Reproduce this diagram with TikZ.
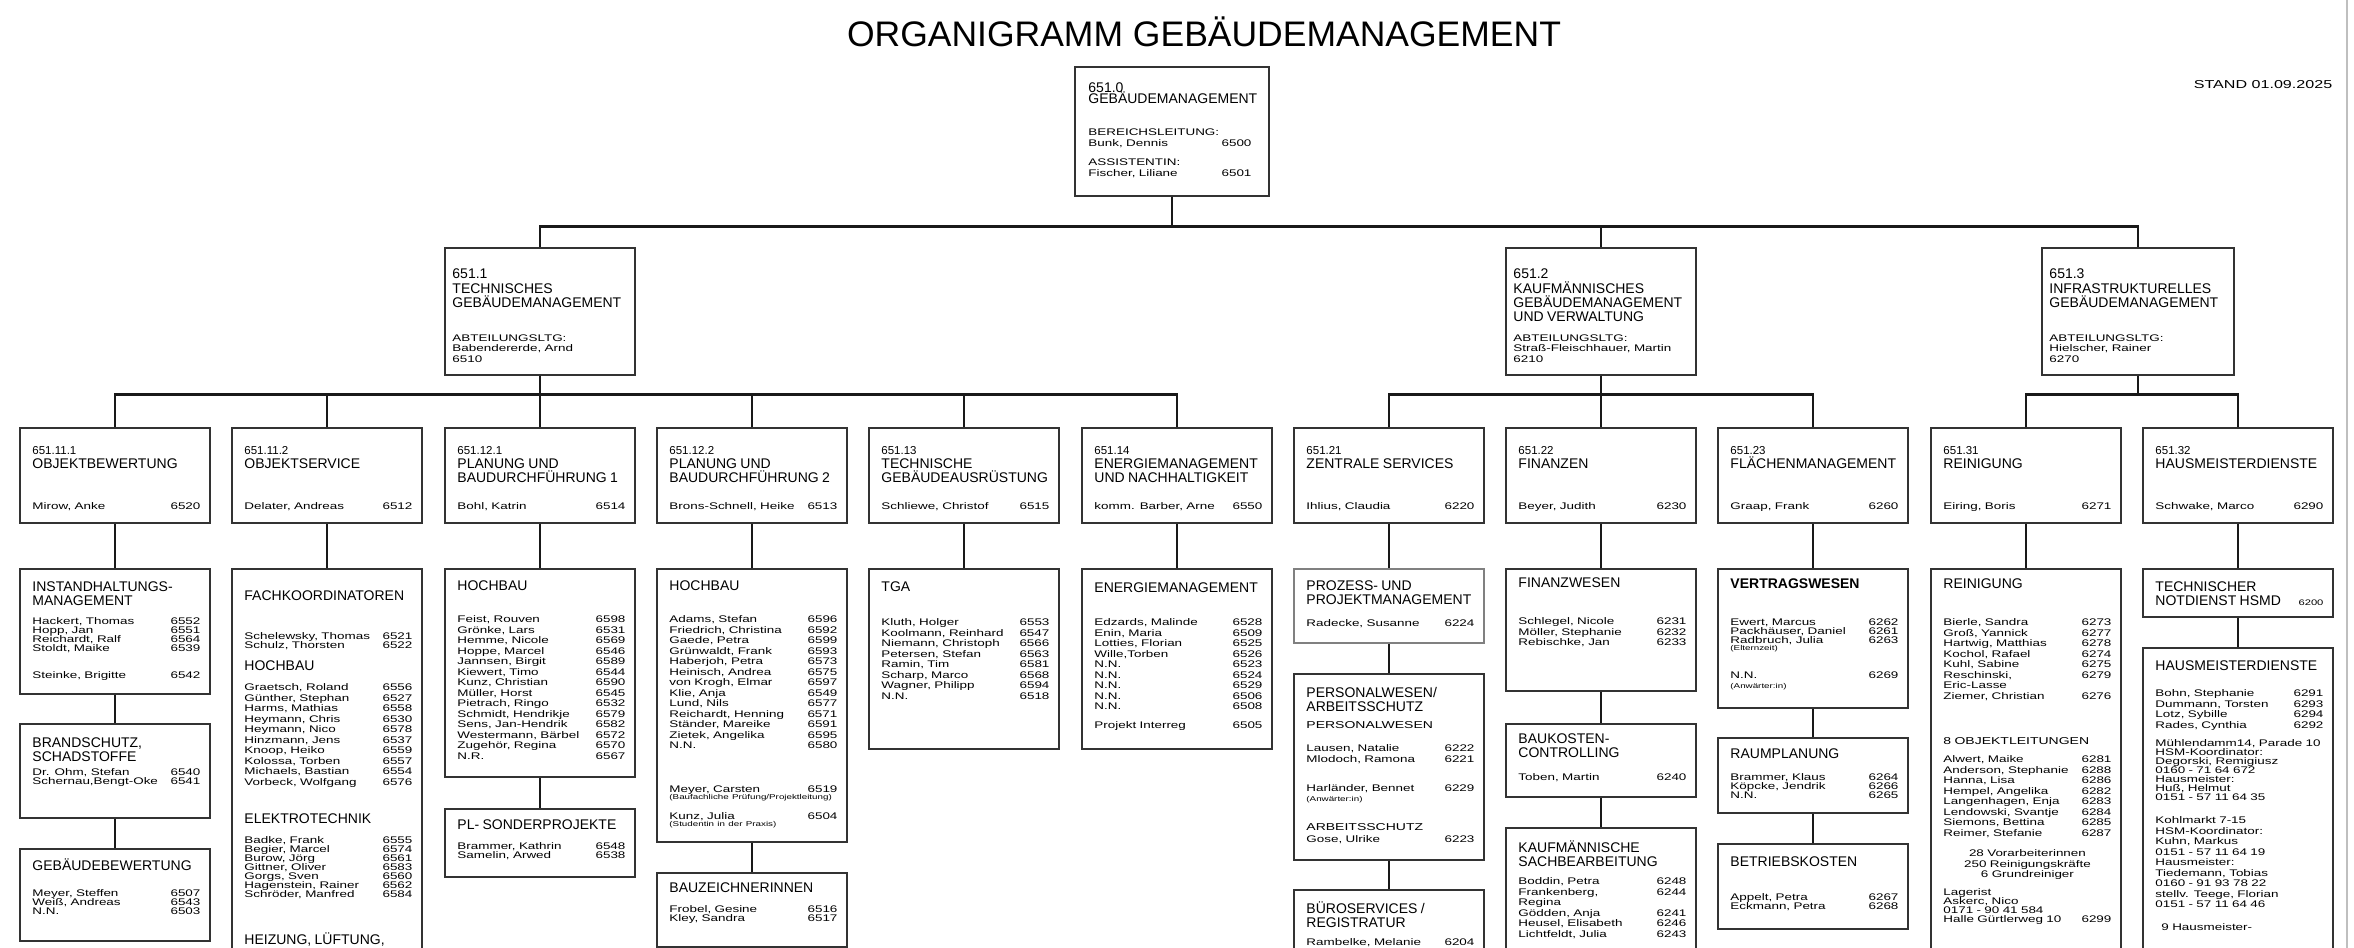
\documentclass[tikz,border=0pt]{standalone}
\usepackage{fontspec}
\setmainfont{Liberation Sans}
\newfontfamily\widefont[FakeStretch=1.4]{Liberation Sans}
\lineskiplimit=-100pt
\newcommand{\hdfont}{\fontsize{14}{14}\selectfont}
\newcommand{\cdfont}{\fontsize{11.5}{14}\selectfont}
\newcommand{\nmfont}{\widefont\fontsize{9.6}{10.5}\selectfont}
\newcommand{\ntfont}{\widefont\fontsize{9.6}{9}\selectfont}
\newcommand{\sbfont}{\widefont\fontsize{10}{11}\selectfont}
\newcommand{\smfont}{\widefont\fontsize{7}{7}\selectfont}
\newcommand{\hd}[1]{{\hdfont#1\par}}
\newcommand{\pn}[2]{\noindent#1\hfill#2\par}
\newcommand{\gap}[1]{\vspace{#1pt}}
\tikzset{
  box/.style={draw=black!80, line width=1.5pt, minimum width=190pt, inner sep=0pt, anchor=north},
  txt/.style={anchor=base west, inner sep=0pt, text width=#1, align=left,
    execute at begin node={\lineskiplimit=-100pt}},
  txt/.default=168pt,
  conn/.style={draw=black!90, line width=2.4pt}
}
\begin{document}
\begin{tikzpicture}[x=1pt,y=1pt]
\useasboundingbox (0,0) rectangle (2354,-948);
\fill[white] (0,0) rectangle (2354,-948);
\clip (0,0) rectangle (2354,-948);
\draw[black!25, line width=2pt] (2347,0) -- (2347,-948);

% title
\node[font=\fontsize{35.5}{36}\selectfont, inner sep=0pt] (title) at (1204,-32) {ORGANIGRAMM GEBÄUDEMANAGEMENT};
\node[font=\widefont\fontsize{11.5}{12}\selectfont, inner sep=0pt] (stand) at (2263,-85) {STAND 01.09.2025};

% head
\node[box, minimum width=194pt, minimum height=129pt] (gm) at (1172,-66) {};
\node[txt=163pt] (gm-t) at ([shift={(14,-26)}]gm.north west) {\hd{651.0\\[-2.5pt]GEBÄUDEMANAGEMENT}\gap{21.5}{\nmfont BEREICHSLEITUNG:\par\pn{Bunk, Dennis}{6500}}\gap{9}{\nmfont ASSISTENTIN:\par\pn{Fischer, Liliane}{6501}}};

% departments
\node[box, minimum height=127pt] (tgm) at (540,-247) {};
\node[txt=176pt] (tgm-t) at ([shift={(8,-31)}]tgm.north west) {\hd{651.1\\[1.5pt]TECHNISCHES\\GEBÄUDEMANAGEMENT}\gap{23}{\nmfont ABTEILUNGSLTG:\par Babendererde, Arnd\par 6510\par}};
\node[box, minimum height=127pt] (kgm) at (1601,-247) {};
\node[txt=176pt] (kgm-t) at ([shift={(8,-31)}]kgm.north west) {\hd{651.2\\[1.5pt]KAUFMÄNNISCHES\\GEBÄUDEMANAGEMENT\\UND VERWALTUNG}\gap{9}{\nmfont ABTEILUNGSLTG:\par Straß-Fleischhauer, Martin\par 6210\par}};
\node[box, minimum width=192pt, minimum height=127pt] (igm) at (2138,-247) {};
\node[txt=176pt] (igm-t) at ([shift={(8,-31)}]igm.north west) {\hd{651.3\\[1.5pt]INFRASTRUKTURELLES\\GEBÄUDEMANAGEMENT}\gap{23}{\nmfont ABTEILUNGSLTG:\par Hielscher, Rainer\par 6270\par}};

\draw[conn] (gm.south) -- ++(0,-30) -| (tgm.north);
\draw[conn] (gm.south) -- ++(0,-30) -| (kgm.north);
\draw[conn] (gm.south) -- ++(0,-30) -| (igm.north);

% sections
\node[box, minimum height=95pt] (ob) at (115,-427) {};
\node[txt] (ob-t) at ([shift={(13,-27.5)}]ob.north west) {\hd{{\cdfont 651.11.1}\\OBJEKTBEWERTUNG}};
\node[txt] (ob-p) at ([shift={(13,-82)}]ob.north west) {\nmfont\pn{Mirow, Anke}{6520}};
\node[box, minimum height=95pt] (os) at (327,-427) {};
\node[txt] (os-t) at ([shift={(13,-27.5)}]os.north west) {\hd{{\cdfont 651.11.2}\\OBJEKTSERVICE}};
\node[txt] (os-p) at ([shift={(13,-82)}]os.north west) {\nmfont\pn{Delater, Andreas}{6512}};
\node[box, minimum height=95pt] (pb1) at (540,-427) {};
\node[txt] (pb1-t) at ([shift={(13,-27.5)}]pb1.north west) {\hd{{\cdfont 651.12.1}\\PLANUNG UND\\BAUDURCHFÜHRUNG 1}};
\node[txt] (pb1-p) at ([shift={(13,-82)}]pb1.north west) {\nmfont\pn{Bohl, Katrin}{6514}};
\node[box, minimum height=95pt] (pb2) at (752,-427) {};
\node[txt] (pb2-t) at ([shift={(13,-27.5)}]pb2.north west) {\hd{{\cdfont 651.12.2}\\PLANUNG UND\\BAUDURCHFÜHRUNG 2}};
\node[txt] (pb2-p) at ([shift={(13,-82)}]pb2.north west) {\nmfont\pn{Brons-Schnell, Heike}{6513}};
\node[box, minimum height=95pt] (tga) at (964,-427) {};
\node[txt] (tga-t) at ([shift={(13,-27.5)}]tga.north west) {\hd{{\cdfont 651.13}\\TECHNISCHE\\GEBÄUDEAUSRÜSTUNG}};
\node[txt] (tga-p) at ([shift={(13,-82)}]tga.north west) {\nmfont\pn{Schliewe, Christof}{6515}};
\node[box, minimum height=95pt] (en) at (1177,-427) {};
\node[txt] (en-t) at ([shift={(13,-27.5)}]en.north west) {\hd{{\cdfont 651.14}\\ENERGIEMANAGEMENT\\UND NACHHALTIGKEIT}};
\node[txt] (en-p) at ([shift={(13,-82)}]en.north west) {\nmfont\pn{komm. Barber, Arne}{6550}};
\node[box, minimum height=95pt] (zs) at (1389,-427) {};
\node[txt] (zs-t) at ([shift={(13,-27.5)}]zs.north west) {\hd{{\cdfont 651.21}\\ZENTRALE SERVICES}};
\node[txt] (zs-p) at ([shift={(13,-82)}]zs.north west) {\nmfont\pn{Ihlius, Claudia}{6220}};
\node[box, minimum height=95pt] (fi) at (1601,-427) {};
\node[txt] (fi-t) at ([shift={(13,-27.5)}]fi.north west) {\hd{{\cdfont 651.22}\\FINANZEN}};
\node[txt] (fi-p) at ([shift={(13,-82)}]fi.north west) {\nmfont\pn{Beyer, Judith}{6230}};
\node[box, minimum height=95pt] (fm) at (1813,-427) {};
\node[txt] (fm-t) at ([shift={(13,-27.5)}]fm.north west) {\hd{{\cdfont 651.23}\\FLÄCHENMANAGEMENT}};
\node[txt] (fm-p) at ([shift={(13,-82)}]fm.north west) {\nmfont\pn{Graap, Frank}{6260}};
\node[box, minimum height=95pt] (re) at (2026,-427) {};
\node[txt] (re-t) at ([shift={(13,-27.5)}]re.north west) {\hd{{\cdfont 651.31}\\REINIGUNG}};
\node[txt] (re-p) at ([shift={(13,-82)}]re.north west) {\nmfont\pn{Eiring, Boris}{6271}};
\node[box, minimum height=95pt] (hm) at (2238,-427) {};
\node[txt] (hm-t) at ([shift={(13,-27.5)}]hm.north west) {\hd{{\cdfont 651.32}\\HAUSMEISTERDIENSTE}};
\node[txt] (hm-p) at ([shift={(13,-82)}]hm.north west) {\nmfont\pn{Schwake, Marco}{6290}};

\draw[conn] (tgm.south) -- ++(0,-19) -| (ob.north);
\draw[conn] (tgm.south) -- ++(0,-19) -| (os.north);
\draw[conn] (tgm.south) -- ++(0,-19) -| (pb1.north);
\draw[conn] (tgm.south) -- ++(0,-19) -| (pb2.north);
\draw[conn] (tgm.south) -- ++(0,-19) -| (tga.north);
\draw[conn] (tgm.south) -- ++(0,-19) -| (en.north);
\draw[conn] (kgm.south) -- ++(0,-19) -| (zs.north);
\draw[conn] (kgm.south) -- ++(0,-19) -| (fi.north);
\draw[conn] (kgm.south) -- ++(0,-19) -| (fm.north);
\draw[conn] (igm.south) -- ++(0,-19) -| (re.north);
\draw[conn] (igm.south) -- ++(0,-19) -| (hm.north);

% 651.11.1
\node[box, minimum height=125pt] (ob-a) at (115,-568) {};
\node[txt] (ob-at) at ([shift={(13,-23)}]ob-a.north west) {\hd{INSTANDHALTUNGS-\\MANAGEMENT}\gap{10}{\ntfont\pn{Hackert, Thomas}{6552}\pn{Hopp, Jan}{6551}\pn{Reichardt, Ralf}{6564}\pn{Stoldt, Maike}{6539}}\gap{17}{\nmfont\pn{Steinke, Brigitte}{6542}}};
\node[box, minimum height=94pt] (ob-b) at (115,-723) {};
\node[txt] (ob-bt) at ([shift={(13,-24)}]ob-b.north west) {\hd{BRANDSCHUTZ,\\SCHADSTOFFE}\gap{5}{\ntfont\pn{Dr. Ohm, Stefan}{6540}\pn{Schernau,Bengt-Oke}{6541}}};
\node[box, minimum height=92pt] (ob-c) at (115,-848) {};
\node[txt] (ob-ct) at ([shift={(13,-22)}]ob-c.north west) {\hd{GEBÄUDEBEWERTUNG}\gap{17.5}{\ntfont\pn{Meyer, Steffen}{6507}\pn{Weiß, Andreas}{6543}\pn{N.N.}{6503}}};
\draw[conn] (ob.south) -- (ob-a.north);
\draw[conn] (ob-a.south) -- (ob-b.north);
\draw[conn] (ob-b.south) -- (ob-c.north);

% 651.11.2
\node[box, minimum height=400pt] (os-a) at (327,-568) {};
\node[txt] (os-at) at ([shift={(13,-32)}]os-a.north west) {\hd{FACHKOORDINATOREN}\gap{30.5}{\ntfont\pn{Schelewsky, Thomas}{6521}\pn{Schulz, Thorsten}{6522}}\gap{7.5}\hd{HOCHBAU}\gap{10}{\nmfont\pn{Graetsch, Roland}{6556}\pn{Günther, Stephan}{6527}\pn{Harms, Mathias}{6558}\pn{Heymann, Chris}{6530}\pn{Heymann, Nico}{6578}\pn{Hinzmann, Jens}{6537}\pn{Knoop, Heiko}{6559}\pn{Kolossa, Torben}{6557}\pn{Michaels, Bastian}{6554}\pn{Vorbeck, Wolfgang}{6576}}\gap{24}\hd{ELEKTROTECHNIK}\gap{11.5}{\ntfont\pn{Badke, Frank}{6555}\pn{Begier, Marcel}{6574}\pn{Burow, Jörg}{6561}\pn{Gittner, Oliver}{6583}\pn{Gorgs, Sven}{6560}\pn{Hagenstein, Rainer}{6562}\pn{Schröder, Manfred}{6584}}\gap{33}\hd{HEIZUNG, LÜFTUNG,}};
\draw[conn] (os.south) -- (os-a.north);

% 651.12.1
\node[box, minimum height=208pt] (pb1-a) at (540,-568) {};
\node[txt] (pb1-at) at ([shift={(13,-22)}]pb1-a.north west) {\hd{HOCHBAU}\gap{22}{\nmfont\pn{Feist, Rouven}{6598}\pn{Grönke, Lars}{6531}\pn{Hemme, Nicole}{6569}\pn{Hoppe, Marcel}{6546}\pn{Jannsen, Birgit}{6589}\pn{Kiewert, Timo}{6544}\pn{Kunz, Christian}{6590}\pn{Müller, Horst}{6545}\pn{Pietrach, Ringo}{6532}\pn{Schmidt, Hendrikje}{6579}\pn{Sens, Jan-Hendrik}{6582}\pn{Westermann, Bärbel}{6572}\pn{Zugehör, Regina}{6570}\pn{N.R.}{6567}}};
\node[box, minimum height=68pt] (pb1-b) at (540,-808) {};
\node[txt] (pb1-bt) at ([shift={(13,-21)}]pb1-b.north west) {\hd{PL- SONDERPROJEKTE}\gap{11.5}{\ntfont\pn{Brammer, Kathrin}{6548}\pn{Samelin, Arwed}{6538}}};
\draw[conn] (pb1.south) -- (pb1-a.north);
\draw[conn] (pb1-a.south) -- (pb1-b.north);

% 651.12.2
\node[box, minimum height=273pt] (pb2-a) at (752,-568) {};
\node[txt] (pb2-at) at ([shift={(13,-22)}]pb2-a.north west) {\hd{HOCHBAU}\gap{22}{\nmfont\pn{Adams, Stefan}{6596}\pn{Friedrich, Christina}{6592}\pn{Gaede, Petra}{6599}\pn{Grünwaldt, Frank}{6593}\pn{Haberjoh, Petra}{6573}\pn{Heinisch, Andrea}{6575}\pn{von Krogh, Elmar}{6597}\pn{Klie, Anja}{6549}\pn{Lund, Nils}{6577}\pn{Reichardt, Henning}{6571}\pn{Ständer, Mareike}{6591}\pn{Zietek, Angelika}{6595}\pn{N.N.}{6580}}\gap{33.5}{\nmfont\pn{Meyer, Carsten}{6519}}{\smfont (Baufachliche Prüfung/Projektleitung)\par}\gap{9.5}{\nmfont\pn{Kunz, Julia}{6504}}{\smfont (Studentin in der Praxis)\par}};
\node[box, minimum height=74pt] (pb2-b) at (752,-872) {};
\node[txt] (pb2-bt) at ([shift={(13,-20)}]pb2-b.north west) {\hd{BAUZEICHNERINNEN}\gap{11.5}{\ntfont\pn{Frobel, Gesine}{6516}\pn{Kley, Sandra}{6517}}};
\draw[conn] (pb2.south) -- (pb2-a.north);
\draw[conn] (pb2-a.south) -- (pb2-b.north);

% 651.13
\node[box, minimum height=180pt] (tga-a) at (964,-568) {};
\node[txt] (tga-at) at ([shift={(13,-23)}]tga-a.north west) {\hd{TGA}\gap{24}{\nmfont\pn{Kluth, Holger}{6553}\pn{Koolmann, Reinhard}{6547}\pn{Niemann, Christoph}{6566}\pn{Petersen, Stefan}{6563}\pn{Ramin, Tim}{6581}\pn{Scharp, Marco}{6568}\pn{Wagner, Philipp}{6594}\pn{N.N.}{6518}}};
\draw[conn] (tga.south) -- (tga-a.north);

% 651.14
\node[box, minimum height=180pt] (en-a) at (1177,-568) {};
\node[txt] (en-at) at ([shift={(13,-24)}]en-a.north west) {\hd{ENERGIEMANAGEMENT}\gap{23}{\nmfont\pn{Edzards, Malinde}{6528}\pn{Enin, Maria}{6509}\pn{Lotties, Florian}{6525}\pn{Wille,Torben}{6526}\pn{N.N.}{6523}\pn{N.N.}{6524}\pn{N.N.}{6529}\pn{N.N.}{6506}\pn{N.N.}{6508}}\gap{8.5}{\nmfont\pn{Projekt Interreg}{6505}}};
\draw[conn] (en.south) -- (en-a.north);

% 651.21
\node[box, draw=black!50, minimum height=74pt] (zs-a) at (1389,-568) {};
\node[txt] (zs-at) at ([shift={(13,-22)}]zs-a.north west) {\hd{PROZESS- UND\\PROJEKTMANAGEMENT}\gap{12}{\nmfont\pn{Radecke, Susanne}{6224}}};
\node[box, minimum height=186pt] (zs-b) at (1389,-673) {};
\node[txt] (zs-bt) at ([shift={(13,-24)}]zs-b.north west) {\hd{PERSONALWESEN/\\ARBEITSSCHUTZ}\gap{6.5}{\sbfont PERSONALWESEN\par}\gap{12.5}{\nmfont\pn{Lausen, Natalie}{6222}\pn{Mlodoch, Ramona}{6221}}\gap{19}{\nmfont\pn{Harländer, Bennet}{6229}}\gap{3}{\smfont (Anwärter:in)\par}\gap{18}{\sbfont ARBEITSSCHUTZ\par}\gap{1.5}{\nmfont\pn{Gose, Ulrike}{6223}}};
\node[box, minimum height=100pt] (zs-c) at (1389,-889) {};
\node[txt] (zs-ct) at ([shift={(13,-24)}]zs-c.north west) {\hd{BÜROSERVICES /\\REGISTRATUR}\gap{8}{\nmfont\pn{Rambelke, Melanie}{6204}}};
\draw[conn] (zs.south) -- (zs-a.north);
\draw[conn] (zs-a.south) -- (zs-b.north);
\draw[conn] (zs-b.south) -- (zs-c.north);

% 651.22
\node[box, minimum height=122pt] (fi-a) at (1601,-568) {};
\node[txt] (fi-at) at ([shift={(13,-19)}]fi-a.north west) {\hd{FINANZWESEN}\gap{27}{\nmfont\pn{Schlegel, Nicole}{6231}\pn{Möller, Stephanie}{6232}\pn{Rebischke, Jan}{6233}}};
\node[box, minimum height=73pt] (fi-b) at (1601,-723) {};
\node[txt] (fi-bt) at ([shift={(13,-20)}]fi-b.north west) {\hd{BAUKOSTEN-\\CONTROLLING}\gap{13}{\nmfont\pn{Toben, Martin}{6240}}};
\node[box, minimum height=150pt] (fi-c) at (1601,-827) {};
\node[txt] (fi-ct) at ([shift={(13,-25)}]fi-c.north west) {\hd{KAUFMÄNNISCHE\\SACHBEARBEITUNG}\gap{8}{\nmfont\pn{Boddin, Petra}{6248}\pn{Frankenberg,}{6244}Regina\par\pn{Gödden, Anja}{6241}\pn{Heusel, Elisabeth}{6246}\pn{Lichtfeldt, Julia}{6243}}};
\draw[conn] (fi.south) -- (fi-a.north);
\draw[conn] (fi-a.south) -- (fi-b.north);
\draw[conn] (fi-b.south) -- (fi-c.north);

% 651.23
\node[box, minimum height=139pt] (fm-a) at (1813,-568) {};
\node[txt] (fm-at) at ([shift={(13,-20)}]fm-a.north west) {\hd{\textbf{VERTRAGSWESEN}}\gap{28.5}{\ntfont\pn{Ewert, Marcus}{6262}\pn{Packhäuser, Daniel}{6261}\pn{Radbruch, Julia}{6263}}{\smfont (Elternzeit)\par}\gap{17}{\nmfont\pn{N.N.}{6269}}\gap{3}{\smfont (Anwärter:in)\par}};
\node[box, minimum height=75pt] (fm-b) at (1813,-737) {};
\node[txt] (fm-bt) at ([shift={(13,-21)}]fm-b.north west) {\hd{RAUMPLANUNG}\gap{13.5}{\ntfont\pn{Brammer, Klaus}{6264}\pn{Köpcke, Jendrik}{6266}\pn{N.N.}{6265}}};
\node[box, minimum height=85pt] (fm-c) at (1813,-843) {};
\node[txt] (fm-ct) at ([shift={(13,-23)}]fm-c.north west) {\hd{BETRIEBSKOSTEN}\gap{25.5}{\ntfont\pn{Appelt, Petra}{6267}\pn{Eckmann, Petra}{6268}}};
\draw[conn] (fm.south) -- (fm-a.north);
\draw[conn] (fm-a.south) -- (fm-b.north);
\draw[conn] (fm-b.south) -- (fm-c.north);

% 651.31
\node[box, minimum height=400pt] (re-a) at (2026,-568) {};
\node[txt] (re-at) at ([shift={(13,-20)}]re-a.north west) {\hd{REINIGUNG}\gap{27}{\nmfont\pn{Bierle, Sandra}{6273}\pn{Groß, Yannick}{6277}\pn{Hartwig, Matthias}{6278}\pn{Kochol, Rafael}{6274}\pn{Kuhl, Sabine}{6275}\pn{Reschinski,}{6279}Eric-Lasse\par\pn{Ziemer, Christian}{6276}}\gap{34}{\sbfont 8 OBJEKTLEITUNGEN\par}\gap{8}{\nmfont\pn{Alwert, Maike}{6281}\pn{Anderson, Stephanie}{6288}\pn{Hanna, Lisa}{6286}\pn{Hempel, Angelika}{6282}\pn{Langenhagen, Enja}{6283}\pn{Lendowski, Svantje}{6284}\pn{Siemons, Bettina}{6285}\pn{Reimer, Stefanie}{6287}}\gap{10}{\nmfont\centering 28 Vorarbeiterinnen\par 250 Reinigungskräfte\par 6 Grundreiniger\par}\gap{9}{\ntfont Lagerist\par Askerc, Nico\par 0171 - 90 41 584\par\pn{Halle Gürtlerweg 10}{6299}}};
\draw[conn] (re.south) -- (re-a.north);

% 651.32
\node[box, minimum height=48pt] (hm-a) at (2238,-568) {};
\node[txt] (hm-at) at ([shift={(13,-23)}]hm-a.north west) {\hd{TECHNISCHER\\NOTDIENST HSMD\hfill{\widefont\fontsize{8}{8}\selectfont 6200}}};
\node[box, minimum height=330pt] (hm-b) at (2238,-647) {};
\node[txt] (hm-bt) at ([shift={(13,-23)}]hm-b.north west) {\hd{HAUSMEISTERDIENSTE}\gap{16}{\nmfont\pn{Bohn, Stephanie}{6291}\pn{Dummann, Torsten}{6293}\pn{Lotz, Sybille}{6294}\pn{Rades, Cynthia}{6292}}\gap{9.5}{\ntfont Mühlendamm14, Parade 10\par HSM-Koordinator:\par Degorski, Remigiusz\par 0160 - 71 64 672\par Hausmeister:\par Huß, Helmut\par 0151 - 57 11 64 35\par}\gap{12.5}{\nmfont Kohlmarkt 7-15\par HSM-Koordinator:\par Kuhn, Markus\par 0151 - 57 11 64 19\par Hausmeister:\par Tiedemann, Tobias\par 0160 - 91 93 78 22\par stellv. Teege, Florian\par 0151 - 57 11 64 46\par}\gap{12}{\nmfont\hspace*{6pt}9 Hausmeister-\par}};
\draw[conn] (hm.south) -- (hm-a.north);
\draw[conn] (hm-a.south) -- (hm-b.north);
\end{tikzpicture}
\end{document}
